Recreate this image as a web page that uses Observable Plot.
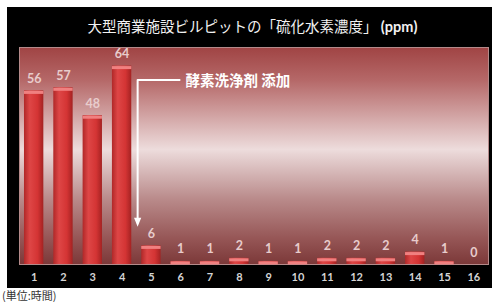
<!DOCTYPE html>
<html><head><meta charset="utf-8">
<script src="https://cdn.jsdelivr.net/npm/d3@7"></script>
<script src="https://cdn.jsdelivr.net/npm/@observablehq/plot@0.6"></script>
<style>
body{margin:0;background:#fff;width:492px;height:302px;overflow:hidden;font-family:"Noto Sans CJK JP",sans-serif}
#box{position:absolute;left:7px;top:7px;width:485px;height:281px;background:#000;}
#title{height:40px;line-height:38px;text-align:center;color:#f2f2f2;font-size:14.5px;padding-left:6px;white-space:nowrap}
#title b{font-family:Lato,"Noto Sans",sans-serif;font-weight:bold}
#cap{position:absolute;left:2px;top:289px;font-size:11px;color:#333;line-height:12px;white-space:nowrap}
</style></head><body>
<div id="box"><div id="title">大型商業施設ビルピットの「硫化水素濃度」 <b>(ppm)</b></div><div id="chart"></div></div>
<div id="cap">(単位:時間)</div>
<script>
const hours = [1,2,3,4,5,6,7,8,9,10,11,12,13,14,15,16];
const h2s = [56,57,48,64,6,1,1,2,1,1,2,2,2,4,1,0];
const yDomain = [0, 70];
const noteText = ["酵素洗浄剤 添加"];
const noteLabelPos = [{x: 6.16, y: 59.5}];
const notePath = [{x: 5.96, y: 59.5}, {x: 4.53, y: 59.5}, {x: 4.53, y: 13.6}];
const noteTip = [{x: 4.53, y: 13.6}];

const data = hours.map((h, i) => ({hour: h, value: h2s[i]}));
const half = 0.33;
const downTriangle = {
  draw(ctx, size) {
    const r = Math.sqrt(size / Math.PI);
    ctx.moveTo(-r * 0.8, -r);
    ctx.lineTo(r * 0.8, -r);
    ctx.lineTo(0, r);
    ctx.closePath();
  }
};

const plot = Plot.plot({
  width: 485, height: 241,
  marginLeft: 12, marginRight: 4, marginTop: 0, marginBottom: 24,
  style: {background: "transparent", color: "#d4d4d4", fontSize: "11px", fontWeight: "bold", fontFamily: "Lato, 'Noto Sans', sans-serif", overflow: "visible"},
  x: {domain: [0.5, 16.5], ticks: hours, tickFormat: d => String(d), tickSize: 0, tickPadding: 9, label: null},
  y: {domain: yDomain, axis: null},
  marks: [
    Plot.frame({fill: "url(#bg)", stroke: "#b48a8a"}),
    Plot.rectY(data, {x1: d => d.hour - half, x2: d => d.hour + half, y: "value", fill: "url(#bar)"}),
    Plot.ruleY(data.filter(d => d.value > 0), {x1: d => d.hour - half, x2: d => d.hour + half, y: "value", stroke: "#f08080", strokeWidth: 3, dy: 1.5}),
    Plot.text(data, {x: "hour", y: "value", text: d => String(d.value), dy: -12, fill: "#e8cccc", fontSize: 12.5, fontWeight: "bold"}),
    Plot.line(notePath, {x: "x", y: "y", stroke: "white", strokeWidth: 2}),
    Plot.dot(noteTip, {x: "x", y: "y", symbol: downTriangle, r: 4.5, fill: "white", stroke: "none"}),
    Plot.text(noteLabelPos, {x: "x", y: "y", text: (d, i) => noteText[i], textAnchor: "start", fill: "white", fontSize: 14.5, fontWeight: "bold", fontFamily: "Noto Sans CJK JP", dy: 1.5})
  ]
});

const svg = d3.select(plot);
const defs = svg.insert("defs", ":first-child");
const bg = defs.append("linearGradient").attr("id", "bg").attr("x1", 0).attr("y1", 0).attr("x2", 0).attr("y2", 1);
[[0, "#a04444"], [0.15, "#b56868"], [0.47, "#eddcdc"], [0.7, "#b98a8a"], [0.88, "#965656"], [1, "#7b3838"]]
  .forEach(([o, c]) => bg.append("stop").attr("offset", o).attr("stop-color", c));
const bar = defs.append("linearGradient").attr("id", "bar").attr("x1", 0).attr("y1", 0).attr("x2", 1).attr("y2", 0);
[[0, "#b02828"], [0.3, "#de4646"], [0.7, "#d43434"], [1, "#a42222"]]
  .forEach(([o, c]) => bar.append("stop").attr("offset", o).attr("stop-color", c));

document.getElementById("chart").appendChild(plot);
</script>
</body></html>
